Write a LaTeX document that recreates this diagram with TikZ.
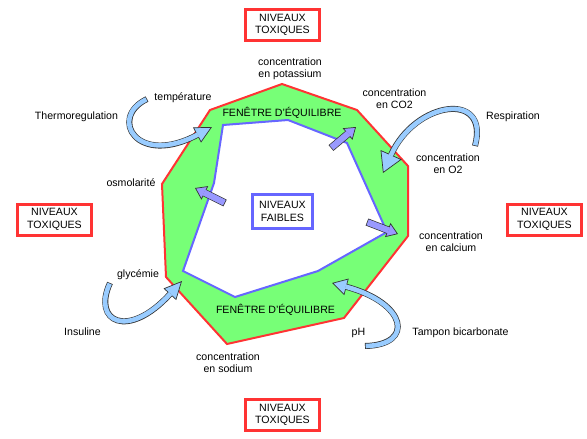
\documentclass[tikz,border=0pt]{standalone}
\usepackage{fontspec}
\setmainfont{Liberation Sans}
\usetikzlibrary{arrows.meta}
\definecolor{toxred}{RGB}{255,51,51}
\definecolor{lowblue}{RGB}{102,102,255}
\definecolor{eqgreen}{RGB}{119,255,119}
\definecolor{regblue}{RGB}{153,204,255}
\definecolor{pushpurple}{RGB}{153,153,255}
\tikzset{
  lbl/.style={font=\fontsize{10.6}{12.4}\selectfont, align=center, inner sep=0pt},
  one/.style={lbl, text height=7.6pt, text depth=2.2pt},
  toxbox/.style={lbl, draw=toxred, line width=3pt, minimum width=74pt, minimum height=31pt},
  lowbox/.style={lbl, draw=lowblue, line width=3pt, minimum width=60pt, minimum height=34pt},
  regout/.style 2 args={draw=black!80, line width=6pt, -{Triangle[length=#1,width=#2,line width=0.7pt,fill=regblue]}},
  regin/.style={draw=regblue, line width=4.6pt, shorten >=#1, shorten <=0.7pt},
  pushout/.style={draw=black!80, line width=7.5pt, -{Triangle[length=11pt,width=15pt,line width=0.7pt,fill=pushpurple]}},
  pushin/.style={draw=pushpurple, line width=6.1pt, shorten >=10pt, shorten <=0.7pt}
}
\begin{document}
\begin{tikzpicture}[x=1pt,y=-1pt]
\useasboundingbox (0,0) rectangle (587,439);
\fill [eqgreen] (210,110) -- (282,84) -- (357,110) -- (408,166) -- (408,236) -- (344,318) -- (227,344) -- (166,277) -- (162,184) -- cycle;
\filldraw [fill=white, draw=lowblue, line width=2pt] (223,125) -- (288,120) -- (347,143) -- (387,232) -- (318,271) -- (235,297) -- (183,271) -- (214,183) -- cycle;
\draw [toxred, line width=2pt] (210,110) -- (282,84) -- (357,110) -- (408,166) -- (408,236) -- (344,318) -- (227,344) -- (166,277) -- (162,184) -- cycle;

\node[toxbox] (toxhaut) at (282.5,25) {NIVEAUX\\TOXIQUES};
\node[toxbox] (toxgauche) at (54.5,219.5) {NIVEAUX\\TOXIQUES};
\node[toxbox] (toxdroite) at (544.5,219.5) {NIVEAUX\\TOXIQUES};
\node[toxbox] (toxbas) at (282.5,415) {NIVEAUX\\TOXIQUES};
\node[lowbox] (faibles) at (282.5,211.5) {NIVEAUX\\FAIBLES};

\node[one] (fenhaut) at (282,114) {FENÊTRE D'ÉQUILIBRE};
\node[one] (fenbas) at (275.5,311) {FENÊTRE D'ÉQUILIBRE};
\node[lbl] (potassium) at (290,69) {concentration\\en potassium};
\node[lbl] (cotwo) at (394.5,99) {concentration\\en CO2};
\node[lbl] (otwo) at (448,164) {concentration\\en O2};
\node[lbl] (calcium) at (451,242) {concentration\\en calcium};
\node[lbl] (sodium) at (228,363) {concentration\\en sodium};
\node[one] (respi) at (513,117) {Respiration};
\node[one] (tampon) at (460.5,333) {Tampon bicarbonate};
\node[one] (ph) at (358.5,333) {pH};
\node[one] (insuline) at (82.5,333) {Insuline};
\node[one] (glycemie) at (138,275) {glycémie};
\node[one] (osmo) at (131,184) {osmolarité};
\node[one] (temp) at (183,98) {température};
\node[one] (thermo) at (76.5,117) {Thermoregulation};

\coordinate (thermotail) at (147,99);
\coordinate (thermotip) at (212,127);
\draw[regout={17pt}{17pt}] (thermotail) .. controls (108,118) and (137,167) .. (thermotip);
\draw[regin=16pt] (thermotail) .. controls (108,118) and (137,167) .. (thermotip);
\coordinate (respitail) at (475,146);
\coordinate (respitip) at (383,173);
\draw[regout={20pt}{23pt}] (respitail) .. controls (490,90) and (415,101) .. (respitip);
\draw[regin=19pt] (respitail) .. controls (490,90) and (415,101) .. (respitip);
\coordinate (insutail) at (110,283);
\coordinate (insutip) at (182,281);
\draw[regout={18pt}{17pt}] (insutail) .. controls (92,322) and (128,340) .. (insutip);
\draw[regin=17pt] (insutail) .. controls (92,322) and (128,340) .. (insutip);
\coordinate (tampontail) at (365,346);
\coordinate (tampontip) at (332,283);
\draw[regout={15pt}{17pt}] (tampontail) .. controls (415,345) and (407,303) .. (tampontip);
\draw[regin=14pt] (tampontail) .. controls (415,345) and (407,303) .. (tampontip);

\coordinate (cotwotail) at (331,148);
\coordinate (cotwotip) at (356,127);
\draw[pushout] (cotwotail) -- (cotwotip);
\draw[pushin] (cotwotail) -- (cotwotip);
\coordinate (calctail) at (367,222);
\coordinate (calctip) at (398,234);
\draw[pushout] (calctail) -- (calctip);
\draw[pushin] (calctail) -- (calctip);
\coordinate (osmotail) at (225,203);
\coordinate (osmotip) at (195,188);
\draw[pushout] (osmotail) -- (osmotip);
\draw[pushin] (osmotail) -- (osmotip);
\end{tikzpicture}
\end{document}
